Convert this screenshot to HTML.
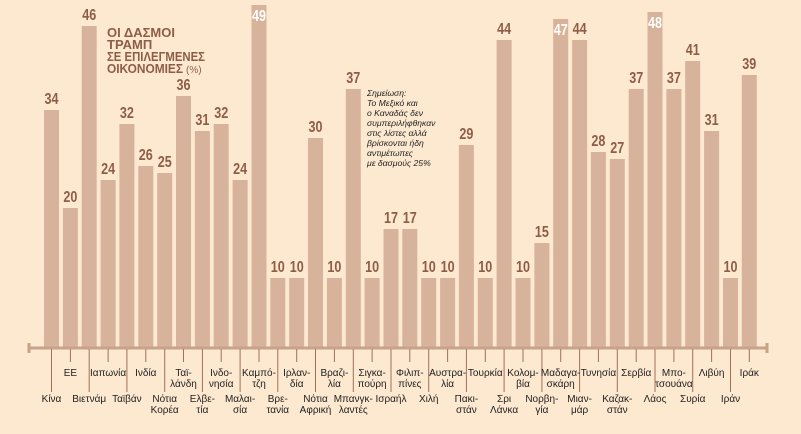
<!DOCTYPE html>
<html><head><meta charset="utf-8"><style>
body{margin:0;background:#fde8d0;}
svg{display:block;}
.v{font-family:"Liberation Sans Narrow","Liberation Sans",sans-serif;font-weight:bold;font-size:16px;fill:#8e5d47;text-anchor:middle;}
.w{fill:#fff;}
.l{font-family:"Liberation Sans",sans-serif;font-size:10px;fill:#222;text-anchor:middle;}
.t{font-family:"Liberation Sans",sans-serif;font-weight:bold;font-size:13px;fill:#8e5d47;}
.n{font-family:"Liberation Sans",sans-serif;font-style:italic;font-size:8.6px;fill:#222;}
</style></head><body>
<svg width="801" height="434" viewBox="0 0 801 434" xmlns="http://www.w3.org/2000/svg">
<rect width="801" height="434" fill="#fde8d0"/>
<g fill="#d8b39b">
<rect x="44" y="110" width="15" height="238"/>
<rect x="62.9" y="208" width="15" height="140"/>
<rect x="81.7" y="26" width="15" height="322"/>
<rect x="100.6" y="180" width="15" height="168"/>
<rect x="119.4" y="124" width="15" height="224"/>
<rect x="138.3" y="166" width="15" height="182"/>
<rect x="157.2" y="173" width="15" height="175"/>
<rect x="176" y="96" width="15" height="252"/>
<rect x="194.9" y="131" width="15" height="217"/>
<rect x="213.7" y="124" width="15" height="224"/>
<rect x="232.6" y="180" width="15" height="168"/>
<rect x="251.5" y="5" width="15" height="343"/>
<rect x="270.3" y="278" width="15" height="70"/>
<rect x="289.2" y="278" width="15" height="70"/>
<rect x="308" y="138" width="15" height="210"/>
<rect x="326.9" y="278" width="15" height="70"/>
<rect x="345.8" y="89" width="15" height="259"/>
<rect x="364.6" y="278" width="15" height="70"/>
<rect x="383.5" y="229" width="15" height="119"/>
<rect x="402.3" y="229" width="15" height="119"/>
<rect x="421.2" y="278" width="15" height="70"/>
<rect x="440.1" y="278" width="15" height="70"/>
<rect x="458.9" y="145" width="15" height="203"/>
<rect x="477.8" y="278" width="15" height="70"/>
<rect x="496.6" y="40" width="15" height="308"/>
<rect x="515.5" y="278" width="15" height="70"/>
<rect x="534.4" y="243" width="15" height="105"/>
<rect x="553.2" y="19" width="15" height="329"/>
<rect x="572.1" y="40" width="15" height="308"/>
<rect x="590.9" y="152" width="15" height="196"/>
<rect x="609.8" y="159" width="15" height="189"/>
<rect x="628.7" y="89" width="15" height="259"/>
<rect x="647.5" y="12" width="15" height="336"/>
<rect x="666.4" y="89" width="15" height="259"/>
<rect x="685.2" y="61" width="15" height="287"/>
<rect x="704.1" y="131" width="15" height="217"/>
<rect x="723" y="278" width="15" height="70"/>
<rect x="741.8" y="75" width="15" height="273"/>
</g>
<g class="v">
<text x="51.5" y="104" textLength="14" lengthAdjust="spacingAndGlyphs">34</text>
<text x="70.4" y="202" textLength="14" lengthAdjust="spacingAndGlyphs">20</text>
<text x="89.2" y="20" textLength="14" lengthAdjust="spacingAndGlyphs">46</text>
<text x="108.1" y="174" textLength="14" lengthAdjust="spacingAndGlyphs">24</text>
<text x="126.9" y="118" textLength="14" lengthAdjust="spacingAndGlyphs">32</text>
<text x="145.8" y="160" textLength="14" lengthAdjust="spacingAndGlyphs">26</text>
<text x="164.7" y="167" textLength="14" lengthAdjust="spacingAndGlyphs">25</text>
<text x="183.5" y="90" textLength="14" lengthAdjust="spacingAndGlyphs">36</text>
<text x="202.4" y="125" textLength="14" lengthAdjust="spacingAndGlyphs">31</text>
<text x="221.2" y="118" textLength="14" lengthAdjust="spacingAndGlyphs">32</text>
<text x="240.1" y="174" textLength="14" lengthAdjust="spacingAndGlyphs">24</text>
<text class="v w" x="259" y="21" textLength="14" lengthAdjust="spacingAndGlyphs">49</text>
<text x="277.8" y="272" textLength="14" lengthAdjust="spacingAndGlyphs">10</text>
<text x="296.7" y="272" textLength="14" lengthAdjust="spacingAndGlyphs">10</text>
<text x="315.5" y="132" textLength="14" lengthAdjust="spacingAndGlyphs">30</text>
<text x="334.4" y="272" textLength="14" lengthAdjust="spacingAndGlyphs">10</text>
<text x="353.3" y="83" textLength="14" lengthAdjust="spacingAndGlyphs">37</text>
<text x="372.1" y="272" textLength="14" lengthAdjust="spacingAndGlyphs">10</text>
<text x="391" y="223" textLength="14" lengthAdjust="spacingAndGlyphs">17</text>
<text x="409.8" y="223" textLength="14" lengthAdjust="spacingAndGlyphs">17</text>
<text x="428.7" y="272" textLength="14" lengthAdjust="spacingAndGlyphs">10</text>
<text x="447.6" y="272" textLength="14" lengthAdjust="spacingAndGlyphs">10</text>
<text x="466.4" y="139" textLength="14" lengthAdjust="spacingAndGlyphs">29</text>
<text x="485.3" y="272" textLength="14" lengthAdjust="spacingAndGlyphs">10</text>
<text x="504.1" y="34" textLength="14" lengthAdjust="spacingAndGlyphs">44</text>
<text x="523" y="272" textLength="14" lengthAdjust="spacingAndGlyphs">10</text>
<text x="541.9" y="237" textLength="14" lengthAdjust="spacingAndGlyphs">15</text>
<text class="v w" x="560.7" y="35" textLength="14" lengthAdjust="spacingAndGlyphs">47</text>
<text x="579.6" y="34" textLength="14" lengthAdjust="spacingAndGlyphs">44</text>
<text x="598.4" y="146" textLength="14" lengthAdjust="spacingAndGlyphs">28</text>
<text x="617.3" y="153" textLength="14" lengthAdjust="spacingAndGlyphs">27</text>
<text x="636.2" y="83" textLength="14" lengthAdjust="spacingAndGlyphs">37</text>
<text class="v w" x="655" y="28" textLength="14" lengthAdjust="spacingAndGlyphs">48</text>
<text x="673.9" y="83" textLength="14" lengthAdjust="spacingAndGlyphs">37</text>
<text x="692.7" y="55" textLength="14" lengthAdjust="spacingAndGlyphs">41</text>
<text x="711.6" y="125" textLength="14" lengthAdjust="spacingAndGlyphs">31</text>
<text x="730.5" y="272" textLength="14" lengthAdjust="spacingAndGlyphs">10</text>
<text x="749.3" y="69" textLength="14" lengthAdjust="spacingAndGlyphs">39</text>
</g>
<text class="t" x="107" y="37">ΟΙ ΔΑΣΜΟΙ</text>
<text class="t" x="107" y="49">ΤΡΑΜΠ</text>
<text class="t" x="107" y="61" textLength="98" lengthAdjust="spacingAndGlyphs">ΣΕ ΕΠΙΛΕΓΜΕΝΕΣ</text>
<text class="t" x="107" y="73" textLength="76" lengthAdjust="spacingAndGlyphs">ΟΙΚΟΝΟΜΙΕΣ</text>
<text x="186" y="73" font-family="Liberation Sans" font-size="10" fill="#8e5d47">(%)</text>
<g class="n">
<text x="367" y="96">Σημείωση:</text><text x="367" y="106">Το Μεξικό και</text>
<text x="367" y="116">ο Καναδάς δεν</text><text x="367" y="126">συμπεριλήφθηκαν</text>
<text x="367" y="136">στις λίστες αλλά</text><text x="367" y="146">βρίσκονται ήδη</text>
<text x="367" y="156">αντιμέτωπες</text><text x="367" y="166">με δασμούς 25%</text>
</g>
<g stroke="#c9a28a" stroke-width="3">
<line x1="28" y1="348" x2="768" y2="348"/>
<line x1="29" y1="343" x2="29" y2="353"/><line x1="767" y1="343" x2="767" y2="353"/>
</g>
<g stroke="#a0705a" stroke-width="1">
<line x1="51.5" y1="349" x2="51.5" y2="392"/><line x1="70.4" y1="349" x2="70.4" y2="362"/>
<line x1="89.2" y1="349" x2="89.2" y2="392"/><line x1="108.1" y1="349" x2="108.1" y2="362"/>
<line x1="126.9" y1="349" x2="126.9" y2="392"/><line x1="145.8" y1="349" x2="145.8" y2="362"/>
<line x1="164.7" y1="349" x2="164.7" y2="392"/><line x1="183.5" y1="349" x2="183.5" y2="362"/>
<line x1="202.4" y1="349" x2="202.4" y2="392"/><line x1="221.2" y1="349" x2="221.2" y2="362"/>
<line x1="240.1" y1="349" x2="240.1" y2="392"/><line x1="259" y1="349" x2="259" y2="362"/>
<line x1="277.8" y1="349" x2="277.8" y2="392"/><line x1="296.7" y1="349" x2="296.7" y2="362"/>
<line x1="315.5" y1="349" x2="315.5" y2="392"/><line x1="334.4" y1="349" x2="334.4" y2="362"/>
<line x1="353.3" y1="349" x2="353.3" y2="392"/><line x1="372.1" y1="349" x2="372.1" y2="362"/>
<line x1="391" y1="349" x2="391" y2="392"/><line x1="409.8" y1="349" x2="409.8" y2="362"/>
<line x1="428.7" y1="349" x2="428.7" y2="392"/><line x1="447.6" y1="349" x2="447.6" y2="362"/>
<line x1="466.4" y1="349" x2="466.4" y2="392"/><line x1="485.3" y1="349" x2="485.3" y2="362"/>
<line x1="504.1" y1="349" x2="504.1" y2="392"/><line x1="523" y1="349" x2="523" y2="362"/>
<line x1="541.9" y1="349" x2="541.9" y2="392"/><line x1="560.7" y1="349" x2="560.7" y2="362"/>
<line x1="579.6" y1="349" x2="579.6" y2="392"/><line x1="598.4" y1="349" x2="598.4" y2="362"/>
<line x1="617.3" y1="349" x2="617.3" y2="392"/><line x1="636.2" y1="349" x2="636.2" y2="362"/>
<line x1="655" y1="349" x2="655" y2="392"/><line x1="673.9" y1="349" x2="673.9" y2="362"/>
<line x1="692.7" y1="349" x2="692.7" y2="392"/><line x1="711.6" y1="349" x2="711.6" y2="362"/>
<line x1="730.5" y1="349" x2="730.5" y2="392"/><line x1="749.3" y1="349" x2="749.3" y2="362"/>
</g>
<g class="l">
<text x="70.4" y="376">ΕΕ</text><text x="108.1" y="376">Ιαπωνία</text><text x="145.8" y="376">Ινδία</text>
<text x="183.5" y="376">Ταϊ-</text><text x="183.5" y="387">λάνδη</text>
<text x="221.2" y="376">Ινδο-</text><text x="221.2" y="387">νησία</text>
<text x="259" y="376">Καμπό-</text><text x="259" y="387">τζη</text>
<text x="296.7" y="376">Ιρλαν-</text><text x="296.7" y="387">δία</text>
<text x="334.4" y="376">Βραζι-</text><text x="334.4" y="387">λία</text>
<text x="372.1" y="376">Σιγκα-</text><text x="372.1" y="387">πούρη</text>
<text x="409.8" y="376">Φιλιπ-</text><text x="409.8" y="387">πίνες</text>
<text x="447.6" y="376">Αυστρα-</text><text x="447.6" y="387">λία</text>
<text x="485.3" y="376">Τουρκία</text>
<text x="523" y="376">Κολομ-</text><text x="523" y="387">βία</text>
<text x="560.7" y="376">Μαδαγα-</text><text x="560.7" y="387">σκάρη</text>
<text x="598.4" y="376">Τυνησία</text><text x="636.2" y="376">Σερβία</text>
<text x="673.9" y="376">Μπο-</text><text x="673.9" y="387">τσουάνα</text>
<text x="711.6" y="376">Λιβύη</text><text x="749.3" y="376">Ιράκ</text>

<text x="51.5" y="402">Κίνα</text><text x="89.2" y="402">Βιετνάμ</text><text x="126.9" y="402">Ταϊβάν</text>
<text x="164.7" y="402">Νότια</text><text x="164.7" y="413">Κορέα</text>
<text x="202.4" y="402">Ελβε-</text><text x="202.4" y="413">τία</text>
<text x="240.1" y="402">Μαλαι-</text><text x="240.1" y="413">σία</text>
<text x="277.8" y="402">Βρε-</text><text x="277.8" y="413">τανία</text>
<text x="315.5" y="402">Νότια</text><text x="315.5" y="413">Αφρική</text>
<text x="353.3" y="402">Μπανγκ-</text><text x="353.3" y="413">λαντές</text>
<text x="391" y="402">Ισραήλ</text><text x="428.7" y="402">Χιλή</text>
<text x="466.4" y="402">Πακι-</text><text x="466.4" y="413">στάν</text>
<text x="504.1" y="402">Σρι</text><text x="504.1" y="413">Λάνκα</text>
<text x="541.9" y="402">Νορβη-</text><text x="541.9" y="413">γία</text>
<text x="579.6" y="402">Μιαν-</text><text x="579.6" y="413">μάρ</text>
<text x="617.3" y="402">Καζακ-</text><text x="617.3" y="413">στάν</text>
<text x="655" y="402">Λάος</text><text x="692.7" y="402">Συρία</text><text x="730.5" y="402">Ιράν</text>
</g>
</svg>
</body></html>
